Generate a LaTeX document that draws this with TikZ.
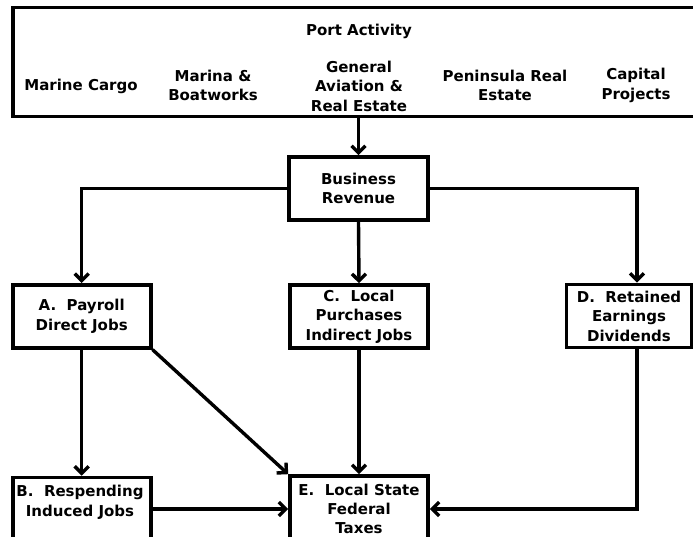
\documentclass[tikz,border=0pt]{standalone}
\usepackage{fontspec}
\setmainfont{DejaVu Sans}
\usetikzlibrary{arrows.meta,positioning}

\begin{document}
\begin{tikzpicture}[
    x=1pt, y=-1pt,
    >={Straight Barb[length=7pt,width=14pt]},
    line width=3.4pt,
    font=\bfseries\fontsize{15}{19.5}\selectfont,
    block/.style={
		rectangle,
		draw=black,
		line width=3.6pt,
		align=center,
		inner sep=0pt,
		minimum height=63pt,
		minimum width=138pt,
		fill=white
	},
	item/.style={
		align=center,
		inner sep=0pt
	}
  ]

\useasboundingbox (0,0) rectangle (693,537);

% // Port activity
\node [block, minimum width=690pt, minimum height=109pt] (port) at (357.7,62) {};
\node [item] (title) at (359,31) {Port Activity};
\node [item] (cargo) at (81,86) {Marine Cargo};
\node [item] (marina) at (213,85.5) {Marina \&\\Boatworks};
\node [item] (aviation) at (359,86) {General\\Aviation \&\\Real Estate};
\node [item] (peninsula) at (505,85.5) {Peninsula Real\\Estate};
\node [item] (capital) at (636,85.5) {Capital\\Projects};

% // Revenue and its uses
\node [block, minimum width=139pt] (revenue) at (358.5,188.5) {Business\\Revenue};
\node [block] (payroll) at (81.7,316.3) {A.~~Payroll\\Direct Jobs};
\node [block] (purchases) at (359,316.5) {C.~~Local\\Purchases\\Indirect Jobs};
\node [block, minimum width=125pt] (earnings) at (629,316) {D.~~Retained\\Earnings\\Dividends};

% // Respending and taxes
\node [block, minimum height=80pt, anchor=north] (respending) at (81.7,475.7) {};
\node [item] (respendinglbl) at (80,502.5) {B.~~Respending\\Induced Jobs};
\node [block, minimum height=66pt, font=\bfseries\fontsize{15}{19}\selectfont] (taxes) at (359,509) {E.~~Local State\\Federal\\Taxes};

 \draw [->] (revenue.north |- port.south) -- (revenue.north);
 \draw [->] (revenue.west) -| (payroll.north);
 \draw [->] (revenue.south) -- (purchases.north);
 \draw [->] (revenue.east) -| ([xshift=8pt]earnings.north);

 \draw [->] (payroll.south) -- (respending.north);
 \draw [->] (payroll.south east) -- (taxes.north west);
 \draw [->] (purchases.south) -- (taxes.north);
 \draw [->] ([xshift=8pt]earnings.south) |- (taxes.east);
 \draw [->] (respending.east |- taxes.west) -- (taxes.west);

\end{tikzpicture}
\end{document}
